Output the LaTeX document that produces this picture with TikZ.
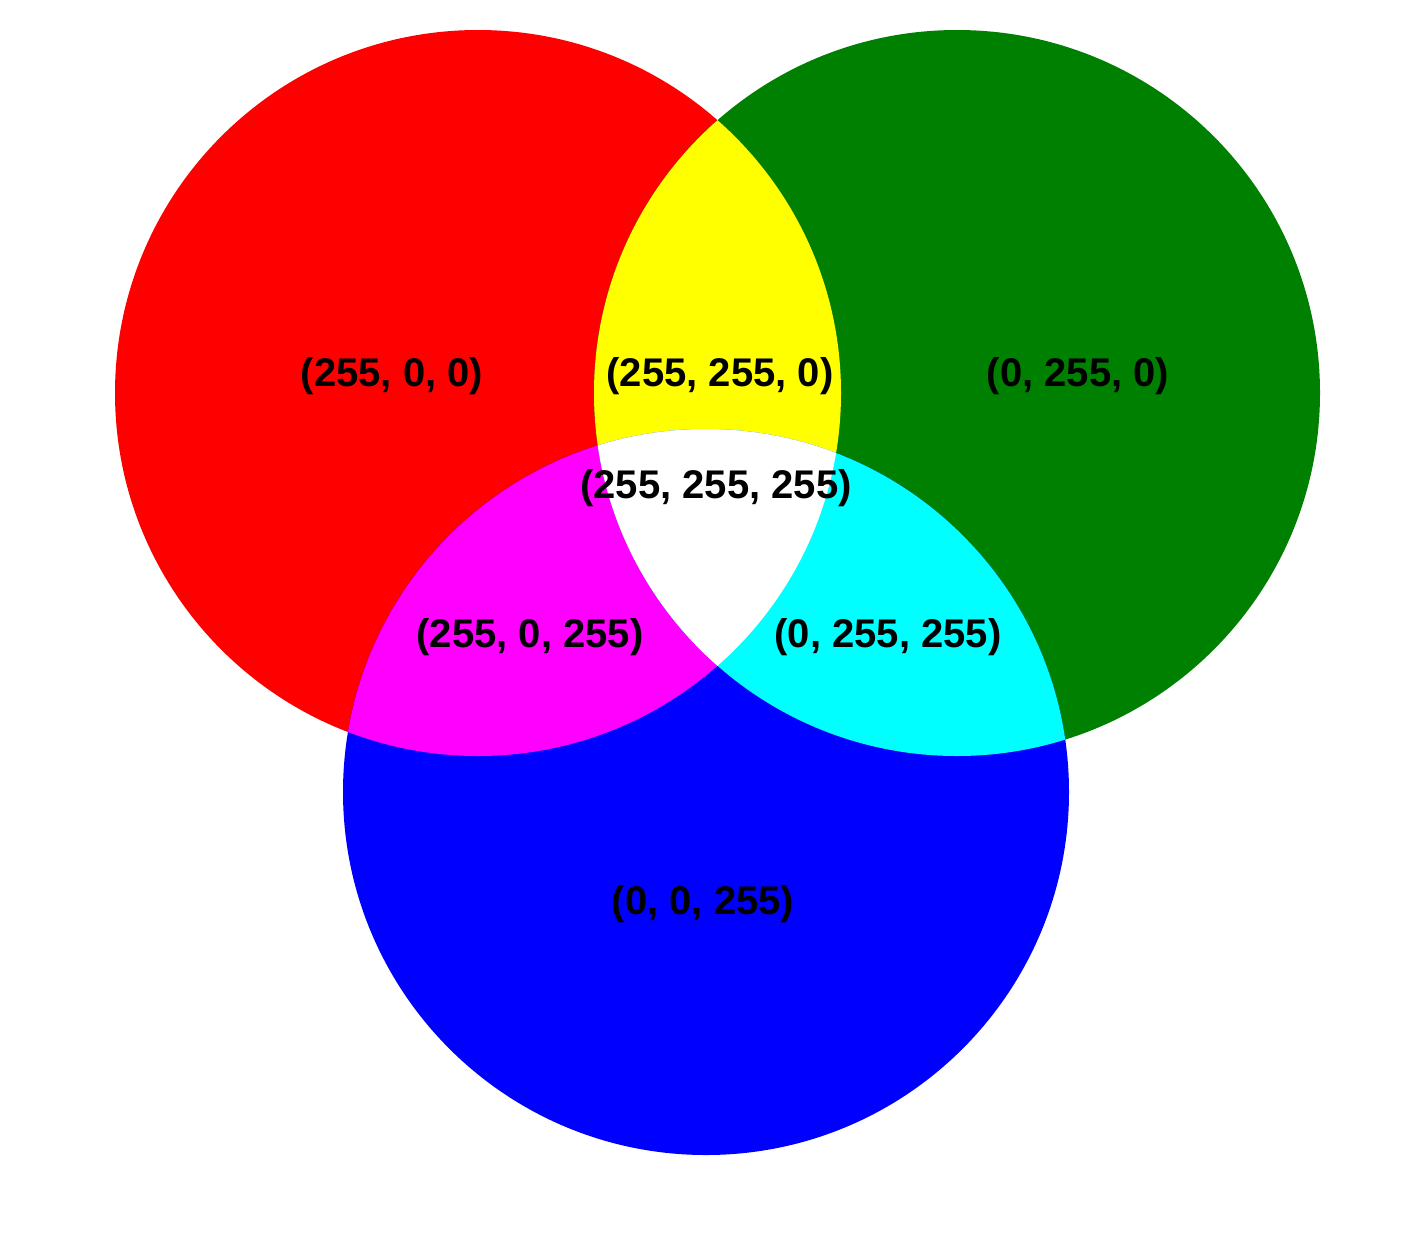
\documentclass[tikz,border=0pt]{standalone}
\usepackage{fontspec}
\setmainfont{Liberation Sans}
\definecolor{rgbred}{RGB}{255,0,0}
\definecolor{rgbgreen}{RGB}{0,128,0}
\definecolor{rgbblue}{RGB}{0,0,255}
\definecolor{rgbyellow}{RGB}{255,255,0}
\definecolor{rgbmagenta}{RGB}{255,0,255}
\definecolor{rgbcyan}{RGB}{0,255,255}
\begin{document}
\begin{tikzpicture}[x=1pt,y=-1pt,
  lbl/.style={font=\fontsize{40}{48}\selectfont\bfseries, text=black, inner sep=0pt}]
\useasboundingbox[fill=white] (0,0) rectangle (1426,1232);
\def\R{363}
\coordinate (cr) at (478,393);
\coordinate (cg) at (957,393);
\coordinate (cb) at (706,792);
% base circles
\fill[rgbred] (cr) circle[radius=\R];
\fill[rgbgreen] (cg) circle[radius=\R];
\fill[rgbblue] (cb) circle[radius=\R];
% red & green -> yellow
\begin{scope}
  \clip (cr) circle[radius=\R];
  \fill[rgbyellow] (cg) circle[radius=\R];
\end{scope}
% red & blue -> magenta
\begin{scope}
  \clip (cr) circle[radius=\R];
  \fill[rgbmagenta] (cb) circle[radius=\R];
\end{scope}
% green & blue -> cyan
\begin{scope}
  \clip (cg) circle[radius=\R];
  \fill[rgbcyan] (cb) circle[radius=\R];
\end{scope}
% all three -> white
\begin{scope}
  \clip (cr) circle[radius=\R];
  \clip (cg) circle[radius=\R];
  \fill[white] (cb) circle[radius=\R];
\end{scope}
% labels
\node[lbl] (lr) at (392,376) {(255, 0, 0)};
\node[lbl] (ly) at (720,376) {(255, 255, 0)};
\node[lbl] (lg) at (1078,376) {(0, 255, 0)};
\node[lbl] (lw) at (716,488) {(255, 255, 255)};
\node[lbl] (lm) at (530,637) {(255, 0, 255)};
\node[lbl] (lc) at (888,637) {(0, 255, 255)};
\node[lbl] (lb) at (703,904) {(0, 0, 255)};
\end{tikzpicture}
\end{document}
